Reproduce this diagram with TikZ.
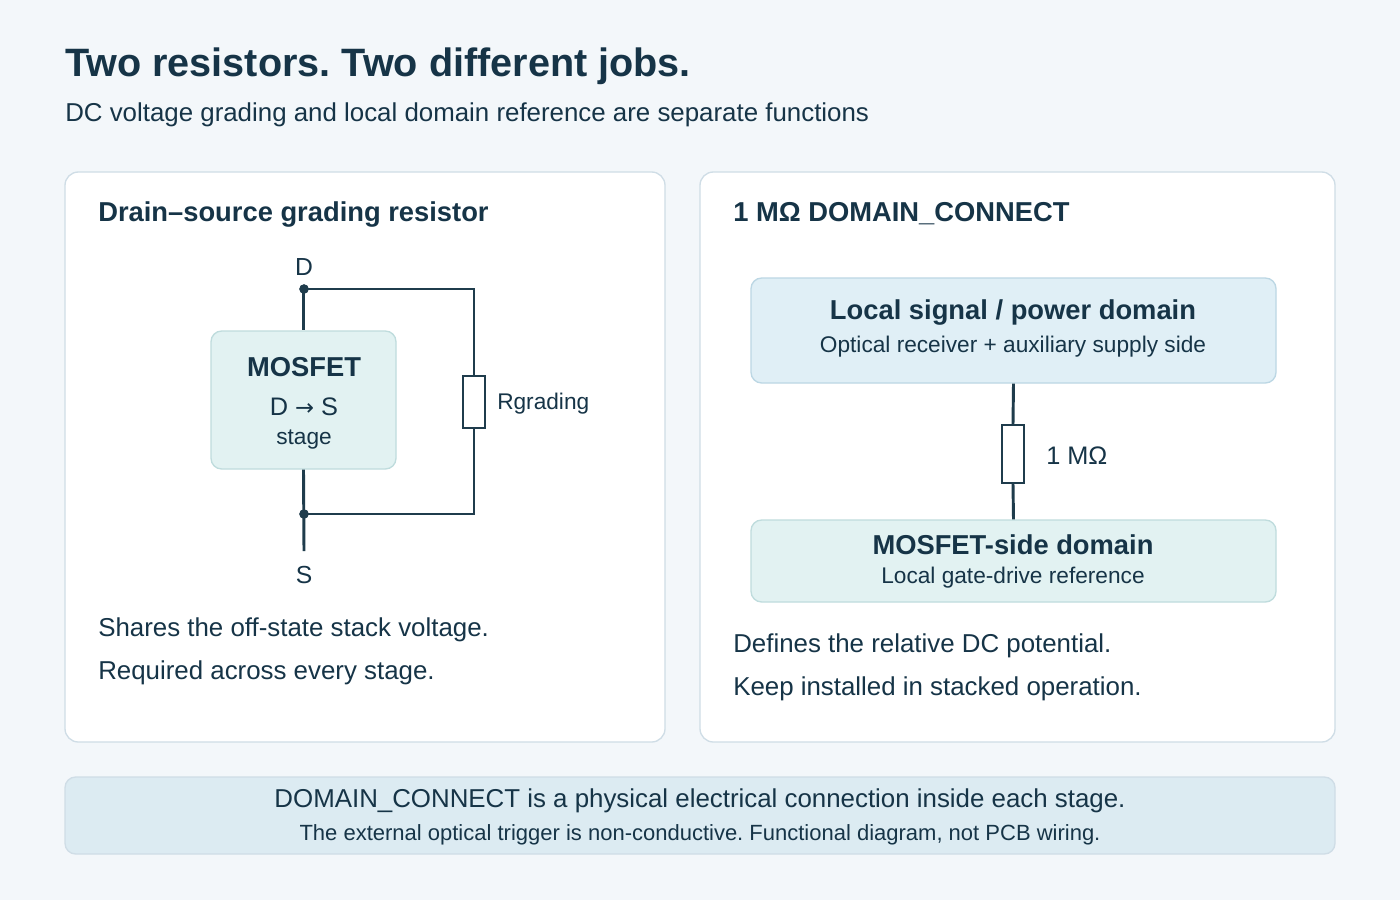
\documentclass[tikz,border=0pt]{standalone}
\usepackage{fontspec}
\setmainfont{Liberation Sans}
\newfontfamily\arrowfont{DejaVu Sans}
\frenchspacing
\definecolor{ink}{HTML}{163447}
\definecolor{wire}{HTML}{1F3C4C}
\definecolor{bg}{HTML}{F3F7FA}
\definecolor{pborder}{HTML}{CFDDE6}
\definecolor{teal}{HTML}{E2F2F2}
\definecolor{tealb}{HTML}{BFDCDD}
\definecolor{blue}{HTML}{E0EFF6}
\definecolor{blueb}{HTML}{BCD7E4}
\definecolor{bar}{HTML}{DCEBF2}
\begin{document}
\begin{tikzpicture}[x=0.75pt,y=-0.75pt,
  panel/.style={draw=pborder,fill=white,rounded corners=10pt,line width=1pt},
  wr/.style={draw=wire,line width=2.2pt},
  res/.style={draw=wire,fill=white,line width=1.3pt,minimum width=16.5pt,inner sep=0pt},
  lbl/.style={text=ink,font=\fontsize{17}{20}\selectfont,inner sep=0pt},
  hd/.style={text=ink,font=\bfseries\fontsize{20.5}{24}\selectfont,inner sep=0pt,anchor=west},
  txt/.style={text=ink,font=\fontsize{19.4}{23}\selectfont,inner sep=0pt,anchor=west},
  dot/.style={circle,fill=wire,inner sep=0pt,minimum size=7pt}]
\useasboundingbox (0,0) rectangle (1400,900);
\fill[bg] (0,0) rectangle (1400,900);
\node[anchor=west,text=ink,font=\bfseries\fontsize{29.7}{34}\selectfont,inner sep=0pt] (title) at (65,66) {Two resistors. Two different jobs.};
\node[txt] (sub) at (65,115) {DC voltage grading and local domain reference are separate functions};
% panels
\draw[panel] (65,172) rectangle (665,742);
\draw[panel] (700,172) rectangle (1335,742);
\draw[draw=pborder,fill=bar,rounded corners=8pt,line width=1pt] (65,777) rectangle (1335,854);
% left
\node[hd] (lh) at (98,214) {Drain–source grading resistor};
\node[draw=tealb,fill=teal,rounded corners=8pt,line width=1pt,minimum width=138.75pt,minimum height=103.5pt] (mos) at (303.5,400) {};
\node[text=ink,font=\bfseries\fontsize{20.5}{24}\selectfont,inner sep=0pt] (mt) at (304,367) {MOSFET};
\node[lbl,font=\fontsize{19}{22}\selectfont] (ds) at (304,407) {D {\arrowfont\fontsize{17}{20}\selectfont →} S};
\node[lbl] (st) at (304,440) {stage};
\node[dot] (dd) at (304,289) {};
\node[dot] (sd) at (304,514) {};
\coordinate (tr) at (474,289);
\coordinate (br) at (474,514);
\coordinate (sb) at (304,551);
\node[res,minimum height=39pt] (rg) at (474,402) {};
\node[lbl,font=\fontsize{18.5}{22}\selectfont] (D) at (304,267) {D};
\node[lbl,font=\fontsize{18.5}{22}\selectfont] (S) at (304,575) {S};
\node[lbl,anchor=west] (rgl) at (497,404) {Rgrading};
\draw[wr] (mos.north |- dd) -- (mos.north);
\draw[wr] (mos.south) -- (sb);
\draw[wr] (dd.center) -- (tr) -- (rg.north);
\draw[wr] (rg.south) -- (br) -- (sd.center);
\node[dot] at (304,289) {};
\node[dot] at (304,514) {};
\node[txt] (l1) at (98,630) {Shares the off-state stack voltage.};
\node[txt] (l2) at (98,673) {Required across every stage.};
% right
\node[hd] (rh) at (733,214) {1 MΩ DOMAIN\_CONNECT};
\node[draw=blueb,fill=blue,rounded corners=8pt,line width=1pt,minimum width=393.75pt,minimum height=78.75pt] (top) at (1013.5,330.5) {};
\node[text=ink,font=\bfseries\fontsize{20.5}{24}\selectfont,inner sep=0pt] (tt) at (1013,312) {Local signal / power domain};
\node[lbl] (ts) at (1013,347) {Optical receiver + auxiliary supply side};
\node[draw=tealb,fill=teal,rounded corners=8pt,line width=1pt,minimum width=393.75pt,minimum height=61.5pt] (bot) at (1013.5,561) {};
\node[text=ink,font=\bfseries\fontsize{20.5}{24}\selectfont,inner sep=0pt] (bt) at (1013,545) {MOSFET-side domain};
\node[lbl] (bs) at (1013,578) {Local gate-drive reference};
\node[res,minimum height=43.5pt] (r1) at (1013,454) {};
\draw[wr] (top.south) -- (r1.north);
\draw[wr] (r1.south) -- (bot.north);
\node[lbl,anchor=west,font=\fontsize{19}{22}\selectfont] (r1l) at (1046,456) {1 MΩ};
\node[txt] (r1t) at (733,646) {Defines the relative DC potential.};
\node[txt] (r2t) at (733,689) {Keep installed in stacked operation.};
% bar
\node[text=ink,font=\fontsize{19.4}{23}\selectfont,inner sep=0pt] (b1) at (700,801) {DOMAIN\_CONNECT is a physical electrical connection inside each stage.};
\node[lbl,font=\fontsize{16.5}{20}\selectfont] (b2) at (700,835) {The external optical trigger is non-conductive. Functional diagram, not PCB wiring.};
\end{tikzpicture}
\end{document}
